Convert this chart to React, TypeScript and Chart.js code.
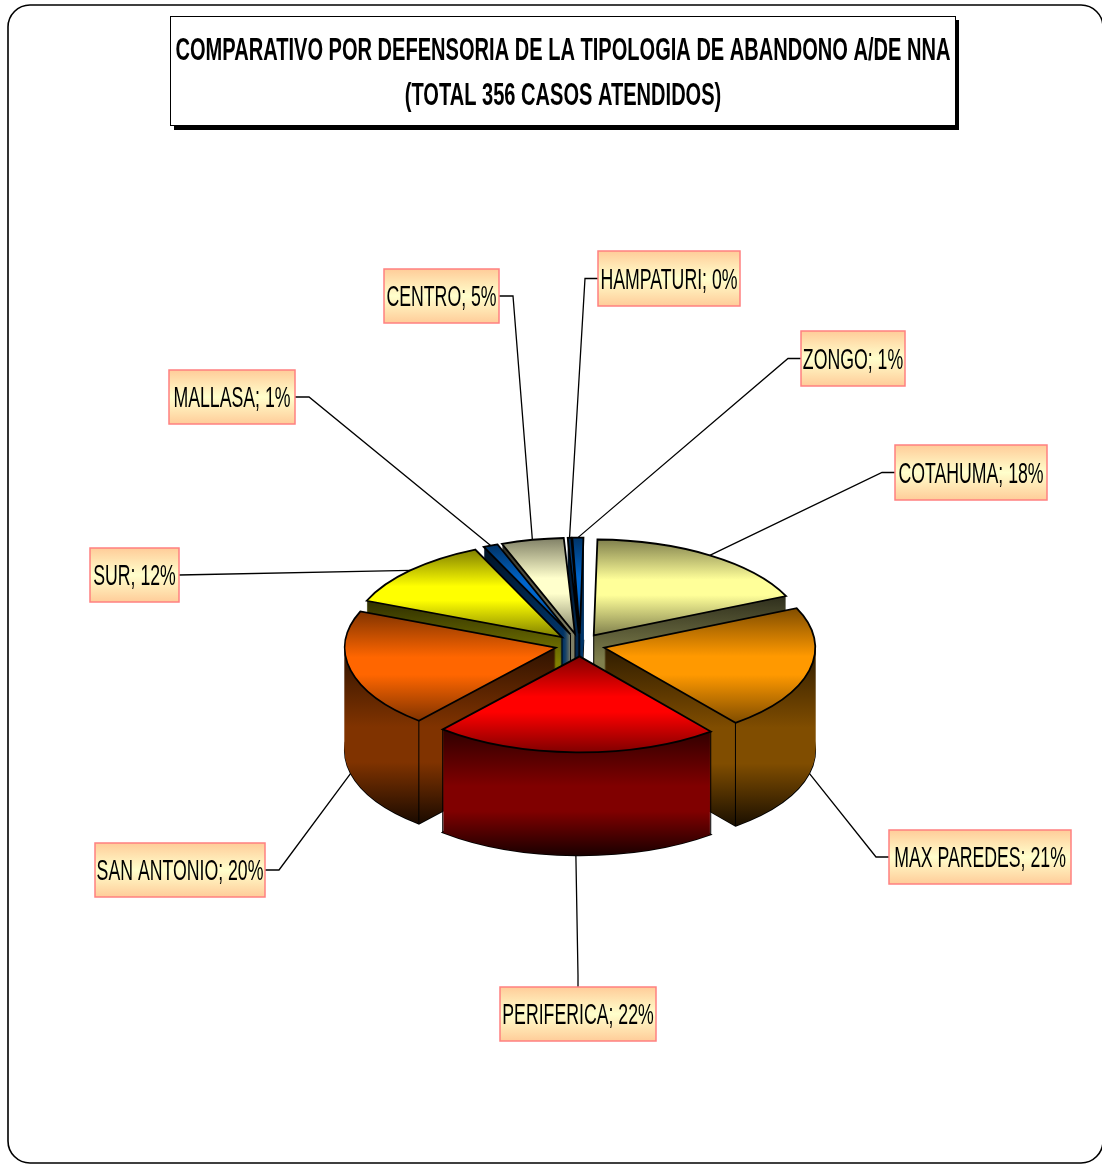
import React, { useEffect, useRef } from "react";
import { Chart, registerables } from "chart.js";

Chart.register(...registerables);

// Data (counts out of 356 cases, read from the printed percentages)
const categories = ["COTAHUMA", "MAX PAREDES", "PERIFERICA", "SAN ANTONIO", "SUR", "MALLASA", "CENTRO", "HAMPATURI", "ZONGO"];
const cases = [64, 75, 78, 71, 43, 4, 17, 1, 3];
const colors = ["#FFFF99", "#FF9900", "#FF0000", "#FF6600", "#FFFF00", "#0066CC", "#FFFFCC", "#004C99", "#0066CC"];
const titleLines = ["COMPARATIVO POR DEFENSORIA DE LA TIPOLOGIA DE ABANDONO A/DE NNA", "(TOTAL 356 CASOS ATENDIDOS)"];

// Layout
const W = 1102, H = 1165;
const CX = 580, CY = 645, RADIUS = 211, TILT = 0.455, DEPTH = 103, EXPLODE = 25, ROTATION = 1;
// label boxes: x, y, w, h, side where the leader leaves
const labelBoxes: [number, number, number, number, string][] = [
  [895, 445, 152, 55, "left"],
  [889, 830, 182, 54, "left"],
  [500, 987, 156, 54, "top"],
  [95, 843, 170, 54, "right"],
  [90, 548, 89, 54, "rightFlat"],
  [169, 370, 126, 54, "right"],
  [384, 269, 115, 54, "right"],
  [598, 251, 142, 55, "left"],
  [801, 331, 104, 55, "left"],
];

const shade = (hex: string, f: number) => {
  const n = parseInt(hex.slice(1), 16);
  return `rgb(${((n >> 16) & 255) * f},${((n >> 8) & 255) * f},${(n & 255) * f})`;
};

const squeezed = (ctx: CanvasRenderingContext2D, text: string, x: number, y: number, sx: number) => {
  ctx.save();
  ctx.translate(x, y);
  ctx.scale(sx, 1);
  ctx.textAlign = "center";
  ctx.textBaseline = "middle";
  ctx.fillText(text, 0, 0);
  ctx.restore();
};

const geometry = (arc: any) => {
  const mid = (arc.startAngle + arc.endAngle) / 2;
  const ox = Math.cos(mid) * EXPLODE;
  const oy = Math.sin(mid) * EXPLODE;
  const ax = CX + ox;
  const ay = CY + oy * TILT;
  const pt = (a: number, d = 0): [number, number] => [ax + Math.cos(a) * arc.outerRadius, ay + Math.sin(a) * arc.outerRadius * TILT + d];
  return { mid, ox, oy, ax, ay, pt };
};

const tracePath = (ctx: CanvasRenderingContext2D, arc: any, g: any, d: number) => {
  ctx.beginPath();
  ctx.moveTo(g.ax, g.ay + d);
  ctx.ellipse(g.ax, g.ay + d, arc.outerRadius, arc.outerRadius * TILT, 0, arc.startAngle, arc.endAngle);
  ctx.closePath();
};

const pie3d = {
  id: "pie3d",
  beforeDraw(chart: any) {
    const ctx: CanvasRenderingContext2D = chart.ctx;
    ctx.save();
    ctx.fillStyle = "#fff";
    ctx.fillRect(0, 0, W, H);
    // outer frame
    ctx.strokeStyle = "#000";
    ctx.lineWidth = 1.6;
    ctx.beginPath();
    ctx.roundRect(8, 5, 1095, 1158, 22);
    ctx.stroke();
    // title box
    ctx.fillStyle = "#000";
    ctx.fillRect(174, 20, 785, 110);
    ctx.fillStyle = "#fff";
    ctx.fillRect(170.5, 16.5, 785, 109);
    ctx.lineWidth = 1;
    ctx.strokeRect(170.5, 16.5, 785, 109);
    ctx.fillStyle = "#000";
    ctx.font = "bold 32px 'Liberation Sans'";
    const sx = 775 / ctx.measureText(titleLines[0]).width;
    squeezed(ctx, titleLines[0], 563, 51.5, sx);
    squeezed(ctx, titleLines[1], 563, 96, sx);
    ctx.restore();
  },
  beforeDatasetsDraw(chart: any) {
    const ctx: CanvasRenderingContext2D = chart.ctx;
    const arcs: any[] = chart.getDatasetMeta(0).data;
    const total = cases.reduce((a, b) => a + b, 0);
    const off = document.createElement("canvas");
    off.width = W;
    off.height = H;
    const oc = off.getContext("2d") as CanvasRenderingContext2D;

    const stamp = (arc: any, g: any, from: number, to: number, fill: CanvasGradient) => {
      oc.setTransform(1, 0, 0, 1, 0, 0);
      oc.globalCompositeOperation = "source-over";
      oc.clearRect(0, 0, W, H);
      for (let d = from; d >= to; d--) {
        oc.setTransform(1, 0, 0, TILT, CX + g.ox - arc.x, CY + d + TILT * (g.oy - arc.y));
        arc.draw(oc);
      }
      oc.setTransform(1, 0, 0, 1, 0, 0);
      oc.globalCompositeOperation = "source-in";
      oc.fillStyle = fill;
      oc.fillRect(0, 0, W, H);
      ctx.drawImage(off, 0, 0);
    };

    ctx.save();
    // leader lines
    ctx.strokeStyle = "#000";
    ctx.lineWidth = 1.3;
    arcs.forEach((arc, i) => {
      const g = geometry(arc);
      const [bx, by, bw, bh, side] = labelBoxes[i];
      const lower = Math.sin(g.mid) > 0.05;
      const [ex, ey] = g.pt(g.mid, lower ? DEPTH : 0);
      ctx.beginPath();
      if (side === "left") {
        ctx.moveTo(bx, by + bh / 2);
        ctx.lineTo(bx - 13, by + bh / 2);
      } else if (side === "right" || side === "rightFlat") {
        ctx.moveTo(bx + bw, by + bh / 2);
        if (side === "right") ctx.lineTo(bx + bw + 14, by + bh / 2);
      } else {
        ctx.moveTo(bx + bw / 2, by);
        ctx.lineTo(bx + bw / 2, by - 12);
      }
      ctx.lineTo(ex, ey);
      ctx.stroke();
    });

    // slices, back to front
    const order = arcs.map((_, i) => i).sort((a, b) => {
      const ma = (arcs[a].startAngle + arcs[a].endAngle) / 2;
      const mb = (arcs[b].startAngle + arcs[b].endAngle) / 2;
      return Math.sin(ma) - Math.sin(mb);
    });
    for (const i of order) {
      const arc = arcs[i];
      const g = geometry(arc);
      const c = colors[i];
      const p1 = g.pt(arc.startAngle);
      const p2 = g.pt(arc.endAngle);
      const ys = [g.ay, p1[1], p2[1]].sort((a, b) => a - b);
      const spans = (t: number) => {
        const two = Math.PI * 2;
        let a = t;
        while (a < arc.startAngle) a += two;
        return a <= arc.endAngle;
      };
      const top = spans(-Math.PI / 2) ? g.ay - arc.outerRadius * TILT : ys[0];
      const bottom = spans(Math.PI / 2) ? g.ay + arc.outerRadius * TILT : ys[2];

      // wall outline at the base, then the wall itself
      ctx.lineWidth = 1.6;
      tracePath(ctx, arc, g, DEPTH);
      ctx.stroke();
      const wallTop = ys[1];
      const wallBottom = bottom + DEPTH;
      const wall = oc.createLinearGradient(0, wallTop, 0, wallBottom);
      wall.addColorStop(0, shade(c, 0.18));
      wall.addColorStop(0.45, shade(c, 0.5));
      wall.addColorStop(0.65, shade(c, 0.5));
      wall.addColorStop(1, shade(c, 0.1));
      stamp(arc, g, DEPTH, 1, wall);

      // visible vertical edges
      ctx.lineWidth = 1;
      const edge = (x: number, y: number) => {
        ctx.beginPath();
        ctx.moveTo(x, y);
        ctx.lineTo(x, y + DEPTH);
        ctx.stroke();
      };
      if (Math.sin(arc.startAngle) > 0) edge(p1[0], p1[1]);
      if (Math.sin(arc.endAngle) > 0) edge(p2[0], p2[1]);
      if (Math.sin(g.mid) < 0) edge(g.ax, g.ay);

      // top face
      const face = oc.createLinearGradient(0, top, 0, bottom);
      face.addColorStop(0, shade(c, 0.5));
      face.addColorStop(0.42, shade(c, 1));
      face.addColorStop(0.58, shade(c, 1));
      face.addColorStop(1, shade(c, 0.5));
      stamp(arc, g, 0, 0, face);
      ctx.lineWidth = 1.8;
      ctx.lineJoin = "miter";
      tracePath(ctx, arc, g, 0);
      ctx.stroke();
    }

    // labels
    ctx.font = "29px 'Liberation Sans'";
    arcs.forEach((_, i) => {
      const [bx, by, bw, bh] = labelBoxes[i];
      const grad = ctx.createLinearGradient(0, by, 0, by + bh);
      grad.addColorStop(0, "#FFCC99");
      grad.addColorStop(0.5, "#FFFFCC");
      grad.addColorStop(1, "#FFCC99");
      ctx.fillStyle = grad;
      ctx.fillRect(bx, by, bw, bh);
      ctx.strokeStyle = "#FF8080";
      ctx.lineWidth = 1.5;
      ctx.strokeRect(bx, by, bw, bh);
      ctx.fillStyle = "#000";
      const text = `${categories[i]}; ${Math.round((cases[i] / total) * 100)}%`;
      squeezed(ctx, text, bx + bw / 2, by + bh / 2 + 2, 0.61);
    });
    ctx.restore();
    return false;
  },
};

export default function App() {
  const ref = useRef<HTMLCanvasElement | null>(null);
  useEffect(() => {
    document.body.style.margin = "0";
    const chart = new Chart(ref.current as HTMLCanvasElement, {
      type: "pie",
      data: {
        labels: categories,
        datasets: [{ data: cases, backgroundColor: colors, borderWidth: 0 }],
      },
      options: {
        animation: false,
        responsive: false,
        maintainAspectRatio: false,
        radius: RADIUS,
        rotation: ROTATION,
        plugins: { legend: { display: false }, tooltip: { enabled: false } },
      } as any,
      plugins: [pie3d],
    });
    return () => chart.destroy();
  }, []);
  return <canvas ref={ref} width={W} height={H} style={{ display: "block" }} />;
}
